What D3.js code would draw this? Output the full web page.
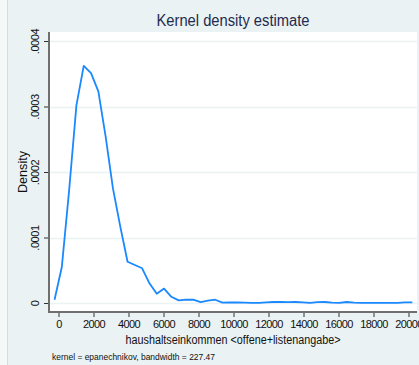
<!DOCTYPE html>
<html lang="en">
<head>
  <meta charset="utf-8">
  <title>Kernel density estimate</title>
  <script src="https://cdn.jsdelivr.net/npm/d3@7"></script>
  <style>
    body { margin: 0; background: #ffffff; }
    text { font-family: "Liberation Sans", Arial, sans-serif; }
  </style>
</head>
<body>
  <script>
    // evaluation points of the density (x) and the estimated density (y)
    var gridX = [-227, 190, 607, 1025, 1442, 1859, 2277, 2694, 3111, 3528,
                 3946, 4363, 4780, 5198, 5615, 6032, 6449, 6867, 7284, 7701,
                 8119, 8536, 8953, 9370, 9788, 10205, 10622, 11040, 11457, 11874,
                 12291, 12709, 13126, 13543, 13960, 14378, 14795, 15212, 15630, 16047,
                 16464, 16881, 17299, 17716, 18133, 18551, 18968, 19385, 19802, 20220];
    var density = [0.000005, 0.000055, 0.000172, 0.000302, 0.000362, 0.000351, 0.000323, 0.000254, 0.000175, 0.000117,
                   0.000063, 0.000058, 0.000053, 0.000030, 0.000014, 0.000022, 0.0000095, 0.000004, 0.000005, 0.000005,
                   0.0000015, 0.0000035, 0.000005, 0.0000005, 0.0000008, 0.0000008, 0.0000005, 0.0000002, 0.0000002, 0.000001,
                   0.0000015, 0.0000015, 0.0000012, 0.0000015, 0.0000008, 0.0000003, 0.0000012, 0.0000015, 0.0000005, 0.0000003,
                   0.0000015, 0.0000005, 0.0000003, 0.0000003, 0.0000003, 0.0000003, 0.0000003, 0.0000003, 0.000001, 0.000001];

    var xTicks = [0, 2000, 4000, 6000, 8000, 10000, 12000, 14000, 16000, 18000, 20000];
    var yTicks = [0, 0.0001, 0.0002, 0.0003, 0.0004];
    var yTickLabels = ["0", ".0001", ".0002", ".0003", ".0004"];

    var titleText = "Kernel density estimate";
    var xTitle = "haushaltseinkommen <offene+listenangabe>";
    var yTitle = "Density";
    var noteText = "kernel = epanechnikov, bandwidth = 227.47";

    var w = 419;
    var h = 365;
    var plotArea = { left: 49, right: 417, top: 32, bottom: 312 };

    var svg = d3.select("body").append("svg")
                .attr("width", w)
                .attr("height", h);

    // graph background
    svg.append("rect")
       .attr("x", 0).attr("y", 0)
       .attr("width", w).attr("height", h)
       .attr("fill", "#f4f8f9");
    svg.append("rect")
       .attr("x", 7).attr("y", 0)
       .attr("width", w - 7).attr("height", h)
       .attr("fill", "#eaf2f3");
    svg.append("line")
       .attr("x1", 7.5).attr("x2", 7.5)
       .attr("y1", 0).attr("y2", h)
       .attr("stroke", "#d3dcde");

    // plot region
    svg.append("rect")
       .attr("x", plotArea.left).attr("y", plotArea.top)
       .attr("width", plotArea.right - plotArea.left)
       .attr("height", plotArea.bottom - plotArea.top)
       .attr("fill", "#ffffff");

    var x = d3.scaleLinear()
              .domain([0, 20000])
              .range([58.5, 408.5]);
    var y = d3.scaleLinear()
              .domain([0, 0.0004])
              .range([303, 41]);

    // grid lines
    svg.append("g")
       .selectAll("line")
       .data(yTicks)
       .enter()
         .append("line")
         .attr("x1", plotArea.left)
         .attr("x2", plotArea.right)
         .attr("y1", function(d) { return Math.round(y(d)) + 0.5; })
         .attr("y2", function(d) { return Math.round(y(d)) + 0.5; })
         .attr("stroke", "#eaf2f3")
         .attr("stroke-width", 1.5);

    // axes
    var xAxis = d3.axisBottom(x)
                  .tickValues(xTicks)
                  .tickSize(5)
                  .tickPadding(3)
                  .tickFormat(d3.format("d"));
    var yAxis = d3.axisLeft(y)
                  .tickValues(yTicks)
                  .tickSize(5)
                  .tickFormat(function(d, i) { return yTickLabels[i]; });

    var gx = svg.append("g")
                .attr("transform", "translate(0," + plotArea.bottom + ")")
                .call(xAxis);
    gx.select(".domain").remove();
    gx.selectAll(".tick line").attr("stroke", "#333").attr("stroke-width", 1);
    gx.selectAll(".tick text")
      .attr("fill", "#111")
      .attr("font-size", 11)
      .attr("letter-spacing", "-0.6px")
      .style("font-family", "'Liberation Sans', Arial, sans-serif");

    var gy = svg.append("g")
                .attr("transform", "translate(" + plotArea.left + ",0)")
                .call(yAxis);
    gy.select(".domain").remove();
    gy.selectAll(".tick line").attr("stroke", "#333").attr("stroke-width", 1);
    gy.selectAll(".tick text")
      .attr("x", null)
      .attr("dy", null)
      .attr("text-anchor", "middle")
      .attr("transform", "translate(-10,0) rotate(-90)")
      .attr("fill", "#111")
      .attr("font-size", 11)
      .attr("letter-spacing", "-0.4px")
      .style("font-family", "'Liberation Sans', Arial, sans-serif");

    // axis lines
    svg.append("line")
       .attr("x1", plotArea.left).attr("x2", plotArea.left)
       .attr("y1", plotArea.top).attr("y2", plotArea.bottom + 1)
       .attr("stroke", "#6f6f6f").attr("stroke-width", 2);
    svg.append("line")
       .attr("x1", plotArea.left - 1).attr("x2", plotArea.right)
       .attr("y1", plotArea.bottom).attr("y2", plotArea.bottom)
       .attr("stroke", "#6f6f6f").attr("stroke-width", 2);

    // density line
    var points = gridX.map(function(d, i) { return { x: d, y: density[i] }; });
    var line = d3.line()
                 .x(function(d) { return x(d.x); })
                 .y(function(d) { return y(d.y); });
    svg.append("path")
       .datum(points)
       .attr("d", line)
       .attr("fill", "none")
       .attr("stroke", "#1a88ff")
       .attr("stroke-width", 1.8)
       .attr("stroke-linejoin", "round");

    // titles
    svg.append("text")
       .attr("x", (plotArea.left + plotArea.right) / 2)
       .attr("y", 26)
       .attr("text-anchor", "middle")
       .attr("font-size", 16)
       .attr("fill", "#1e2b4f")
       .attr("textLength", 153)
       .attr("lengthAdjust", "spacingAndGlyphs")
       .text(titleText);

    svg.append("text")
       .attr("x", (plotArea.left + plotArea.right) / 2)
       .attr("y", 344)
       .attr("text-anchor", "middle")
       .attr("font-size", 12)
       .attr("fill", "#111")
       .attr("textLength", 215)
       .attr("lengthAdjust", "spacingAndGlyphs")
       .text(xTitle);

    svg.append("text")
       .attr("transform", "translate(27," + (plotArea.top + plotArea.bottom) / 2 + ") rotate(-90)")
       .attr("text-anchor", "middle")
       .attr("font-size", 12)
       .attr("fill", "#111")
       .attr("textLength", 42)
       .attr("lengthAdjust", "spacingAndGlyphs")
       .text(yTitle);

    svg.append("text")
       .attr("x", 52)
       .attr("y", 360)
       .attr("font-size", 9)
       .attr("fill", "#111")
       .attr("textLength", 163)
       .attr("lengthAdjust", "spacingAndGlyphs")
       .text(noteText);
  </script>
</body>
</html>
